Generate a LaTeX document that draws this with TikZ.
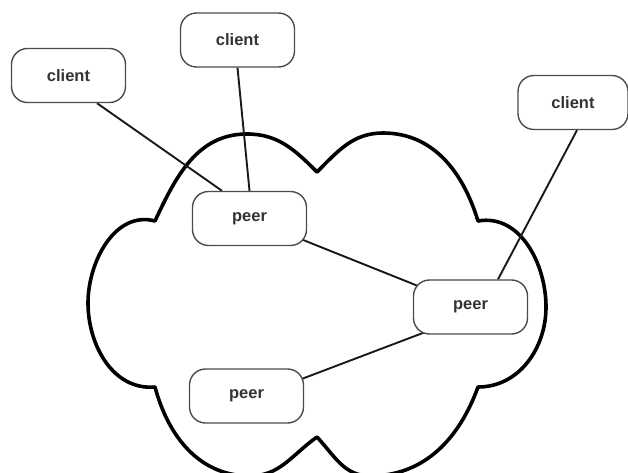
\documentclass[tikz,border=0pt]{standalone}
\usepackage{fontspec}
\setmainfont{Liberation Sans}
\usetikzlibrary{backgrounds,calc}
\tikzset{
  box/.style={draw=black!70, line width=1.4pt, fill=white, rounded corners=16pt,
    minimum width=114pt, minimum height=54pt, inner sep=0pt,
    font=\fontsize{16.5}{19}\selectfont\bfseries, text=black!80},
  link/.style={line width=1.9pt, black!90},
  cloudline/.style={line width=3.6pt, line join=round}
}
\begin{document}
\begin{tikzpicture}[x=1pt, y=1pt]
  \useasboundingbox (0,0) rectangle (628,472);

  % machines
  \node[box] (client1) at (68.5,396.5) {client};
  \node[box] (client2) at (237.5,432) {client};
  \node[box, minimum width=110pt] (client3) at (573,369.5) {client};
  \node[box] (peer1) at (249.5,253.5) {peer};
  \node[box] (peer2) at (470.5,165) {peer};
  \node[box] (peer3) at (246.5,76) {peer};

  \begin{scope}[on background layer]
    % the network cloud
    \draw[cloudline] (155,251)
      to[out=65,in=180] (247,338) to[out=0,in=135] (317,300)
      to[out=45,in=180] (383,339) to[out=0,in=107] (478,251)
      to[out=10,in=90] (546,165) to[out=270,in=0] (478,85)
      to[out=250,in=0] (370,-4) to[out=180,in=-47] (317,35)
      to[out=215,in=0] (250,-4) to[out=180,in=-75] (155,85)
      to[out=185,in=270] (88,169) to[out=90,in=165] (155,251) -- cycle;

    % connections
    \draw[link] ([xshift=28.5pt]client1.south) -- ([xshift=-27.5pt]peer1.north);
    \draw[link] (client2.south) -- (peer1.north);
    \draw[link] ([xshift=4pt]client3.south) -- ([xshift=27.5pt]peer2.north);
    \draw[link] (peer1.center) -- (peer2.center);
    \coordinate (p3a) at ([yshift=18pt]peer3.east);
    \coordinate (p2a) at ([xshift=-49.5pt,yshift=1pt]peer2.south);
    \draw[link] ($(p3a)!-0.2!(p2a)$) -- ($(p2a)!-0.2!(p3a)$);
  \end{scope}
\end{tikzpicture}
\end{document}
